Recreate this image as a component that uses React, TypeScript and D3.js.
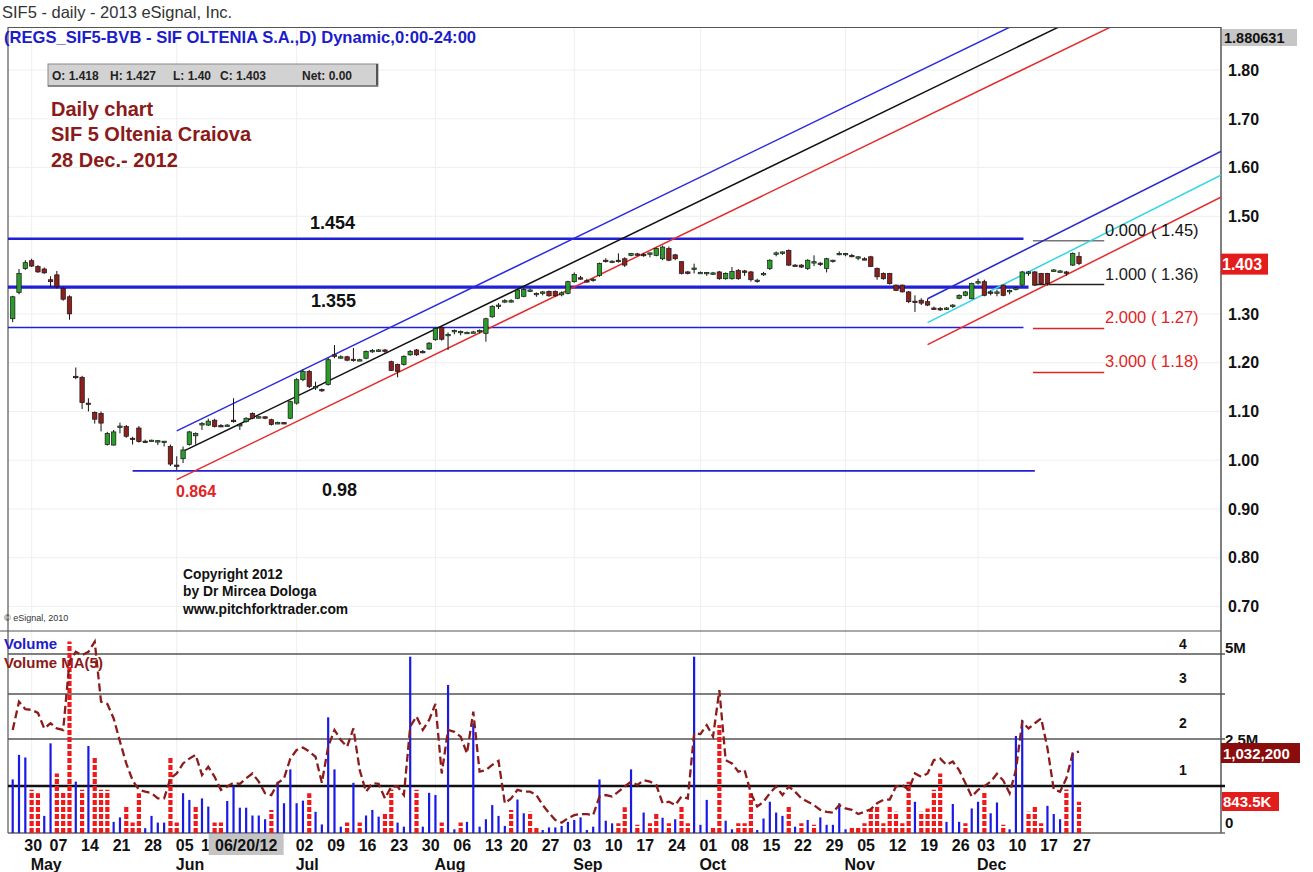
import React from "react";
import * as d3 from "d3";

// ---------- data ----------
const holidays = ["2012-05-01", "2012-06-04", "2012-08-15", "2012-11-30", "2012-12-25", "2012-12-26"];

const opens = [
  1.29, 1.344, 1.393, 1.409, 1.397, 1.392, 1.37, 1.38, 1.352, 1.335,
  1.172, 1.17, 1.117, 1.098, 1.096, 1.032, 1.031, 1.07, 1.069, 1.045,
  1.066, 1.039, 1.04, 1.04, 1.039, 1.028, 0.99, 1.003, 1.032, 1.05,
  1.075, 1.072, 1.082, 1.071, 1.072, 1.082, 1.072, 1.079, 1.096, 1.089,
  1.089, 1.083, 1.077, 1.077, 1.086, 1.117, 1.165, 1.182, 1.151, 1.145,
  1.155, 1.216, 1.212, 1.212, 1.207, 1.206, 1.209, 1.225, 1.226, 1.226,
  1.202, 1.196, 1.196, 1.216, 1.226, 1.223, 1.228, 1.247, 1.272, 1.255,
  1.266, 1.264, 1.262, 1.263, 1.266, 1.26, 1.294, 1.318, 1.325, 1.326,
  1.332, 1.336, 1.349, 1.342, 1.345, 1.346, 1.346, 1.339, 1.342, 1.366,
  1.374, 1.368, 1.369, 1.379, 1.41, 1.406, 1.41, 1.413, 1.42, 1.423,
  1.422, 1.424, 1.42, 1.413, 1.434, 1.421, 1.407, 1.386, 1.392, 1.385,
  1.385, 1.383, 1.386, 1.372, 1.372, 1.389, 1.388, 1.386, 1.368, 1.38,
  1.393, 1.425, 1.427, 1.43, 1.40, 1.40, 1.393, 1.405, 1.404, 1.393,
  1.41, 1.423, 1.424, 1.42, 1.417, 1.413, 1.417, 1.393, 1.383, 1.383,
  1.359, 1.359, 1.345, 1.326, 1.328, 1.325, 1.312, 1.311, 1.311, 1.318,
  1.332, 1.338, 1.331, 1.366, 1.366, 1.345, 1.344, 1.359, 1.348, 1.35,
  1.359, 1.386, 1.386, 1.383, 1.383, 1.389, 1.388, 1.386, 1.40, 1.418,
];

const highs = [
  1.337, 1.392, 1.41, 1.413, 1.40, 1.395, 1.377, 1.388, 1.355, 1.338,
  1.19, 1.173, 1.127, 1.10, 1.10, 1.058, 1.062, 1.077, 1.072, 1.048,
  1.07, 1.042, 1.042, 1.041, 1.039, 1.032, 1.008, 1.028, 1.06, 1.057,
  1.078, 1.085, 1.085, 1.074, 1.074, 1.127, 1.075, 1.088, 1.098, 1.091,
  1.09, 1.085, 1.079, 1.078, 1.122, 1.168, 1.186, 1.185, 1.161, 1.147,
  1.21, 1.236, 1.215, 1.214, 1.23, 1.208, 1.225, 1.228, 1.228, 1.228,
  1.204, 1.198, 1.215, 1.226, 1.228, 1.226, 1.242, 1.272, 1.274, 1.262,
  1.268, 1.266, 1.264, 1.265, 1.268, 1.292, 1.318, 1.322, 1.33, 1.33,
  1.352, 1.353, 1.352, 1.344, 1.347, 1.348, 1.348, 1.346, 1.368, 1.385,
  1.378, 1.372, 1.373, 1.405, 1.414, 1.41, 1.424, 1.416, 1.425, 1.425,
  1.425, 1.426, 1.436, 1.44, 1.438, 1.423, 1.408, 1.388, 1.403, 1.387,
  1.386, 1.386, 1.388, 1.385, 1.396, 1.392, 1.39, 1.388, 1.372, 1.386,
  1.412, 1.428, 1.428, 1.432, 1.402, 1.402, 1.412, 1.42, 1.406, 1.415,
  1.411, 1.428, 1.425, 1.423, 1.418, 1.416, 1.419, 1.395, 1.385, 1.384,
  1.36, 1.36, 1.347, 1.338, 1.332, 1.331, 1.315, 1.314, 1.314, 1.32,
  1.34, 1.347, 1.364, 1.372, 1.37, 1.348, 1.35, 1.36, 1.35, 1.356,
  1.388, 1.388, 1.388, 1.384, 1.384, 1.392, 1.39, 1.388, 1.426, 1.427,
];

const lows = [
  1.283, 1.34, 1.39, 1.396, 1.384, 1.382, 1.356, 1.352, 1.327, 1.288,
  1.166, 1.105, 1.10, 1.075, 1.059, 1.03, 1.03, 1.055, 1.046, 1.032,
  1.036, 1.035, 1.038, 1.031, 1.028, 0.988, 0.98, 0.994, 1.03, 1.032,
  1.062, 1.07, 1.067, 1.068, 1.07, 1.077, 1.062, 1.077, 1.084, 1.086,
  1.084, 1.071, 1.074, 1.074, 1.084, 1.114, 1.162, 1.148, 1.144, 1.14,
  1.153, 1.209, 1.208, 1.203, 1.202, 1.203, 1.207, 1.22, 1.222, 1.22,
  1.183, 1.17, 1.194, 1.214, 1.214, 1.219, 1.226, 1.245, 1.245, 1.226,
  1.258, 1.256, 1.26, 1.261, 1.26, 1.243, 1.292, 1.31, 1.322, 1.323,
  1.33, 1.334, 1.345, 1.335, 1.338, 1.335, 1.335, 1.336, 1.34, 1.364,
  1.37, 1.364, 1.366, 1.376, 1.405, 1.404, 1.405, 1.396, 1.418, 1.419,
  1.417, 1.416, 1.418, 1.41, 1.408, 1.41, 1.381, 1.381, 1.383, 1.383,
  1.378, 1.38, 1.37, 1.37, 1.37, 1.37, 1.378, 1.366, 1.364, 1.378,
  1.39, 1.418, 1.421, 1.398, 1.397, 1.394, 1.39, 1.398, 1.398, 1.385,
  1.405, 1.42, 1.418, 1.416, 1.41, 1.41, 1.396, 1.37, 1.37, 1.36,
  1.347, 1.344, 1.322, 1.304, 1.318, 1.316, 1.308, 1.306, 1.308, 1.312,
  1.33, 1.336, 1.33, 1.36, 1.336, 1.338, 1.336, 1.336, 1.34, 1.348,
  1.357, 1.378, 1.357, 1.36, 1.358, 1.386, 1.385, 1.378, 1.398, 1.40,
];

const closes = [
  1.335, 1.383, 1.405, 1.398, 1.386, 1.384, 1.366, 1.356, 1.33, 1.30,
  1.17, 1.118, 1.115, 1.084, 1.076, 1.055, 1.058, 1.07, 1.049, 1.043,
  1.038, 1.038, 1.041, 1.04, 1.039, 0.992, 0.988, 1.021, 1.058, 1.055,
  1.075, 1.08, 1.069, 1.07, 1.072, 1.079, 1.073, 1.086, 1.086, 1.089,
  1.086, 1.073, 1.077, 1.076, 1.12, 1.165, 1.182, 1.151, 1.151, 1.144,
  1.206, 1.213, 1.212, 1.205, 1.205, 1.206, 1.223, 1.225, 1.226, 1.225,
  1.184, 1.182, 1.213, 1.223, 1.216, 1.222, 1.24, 1.27, 1.248, 1.258,
  1.266, 1.264, 1.262, 1.263, 1.266, 1.29, 1.315, 1.318, 1.327, 1.327,
  1.349, 1.35, 1.349, 1.342, 1.345, 1.337, 1.337, 1.343, 1.366, 1.381,
  1.372, 1.367, 1.371, 1.403, 1.409, 1.408, 1.407, 1.40, 1.424, 1.422,
  1.421, 1.425, 1.434, 1.437, 1.41, 1.413, 1.383, 1.383, 1.394, 1.385,
  1.385, 1.384, 1.372, 1.383, 1.387, 1.372, 1.386, 1.37, 1.369, 1.383,
  1.41, 1.425, 1.427, 1.40, 1.398, 1.396, 1.41, 1.407, 1.402, 1.413,
  1.41, 1.424, 1.424, 1.417, 1.417, 1.412, 1.397, 1.376, 1.372, 1.362,
  1.348, 1.345, 1.325, 1.323, 1.322, 1.318, 1.311, 1.31, 1.312, 1.318,
  1.338, 1.345, 1.362, 1.366, 1.338, 1.344, 1.345, 1.338, 1.348, 1.353,
  1.386, 1.386, 1.359, 1.362, 1.362, 1.39, 1.388, 1.385, 1.424, 1.403,
];

// volume in millions
const volumes = [
  1.44, 2.1, 2.03, 1.16, 1.07, 0.46, 2.41, 1.6, 1.08, 5.15,
  1.38, 1.16, 2.34, 2.05, 1.16, 1.16, 0.3, 0.42, 0.73, 0.28,
  1.07, 0.13, 0.46, 0.28, 0.28, 2.05, 0.28, 1.07, 0.89, 0.73,
  0.93, 0.71, 0.28, 0.28, 0.86, 1.26, 0.68, 0.68, 0.47, 0.47,
  0.37, 0.62, 1.38, 0.8, 1.71, 0.8, 0.87, 1.07, 0.57, 0.23,
  3.11, 1.71, 0.17, 0.28, 1.35, 0.28, 0.47, 0.62, 0.44, 0.55,
  1.17, 0.28, 0.17, 4.74, 1.16, 0.17, 1.08, 1.02, 0.28, 3.98,
  0.1, 0.28, 0.3, 2.95, 0.17, 0.37, 0.75, 0.46, 0.19, 0.62,
  0.9, 0.53, 0.57, 0.17, 0.08, 0.15, 0.15, 0.19, 0.3, 0.35,
  0.42, 0.08, 0.17, 1.44, 0.33, 0.26, 0.26, 0.69, 1.71, 0.22,
  0.55, 0.26, 0.55, 0.41, 0.26, 0.37, 0.71, 0.26, 4.74, 0.22,
  0.89, 0.19, 2.9, 0.33, 0.1, 0.26, 0.26, 1.07, 0.08, 0.39,
  0.84, 0.55, 0.46, 0.71, 0.17, 0.26, 0.35, 0.22, 0.42, 0.22,
  0.22, 0.8, 0.1, 0.19, 0.19, 0.26, 0.64, 0.71, 0.26, 0.71,
  0.57, 0.26, 1.38, 0.84, 0.57, 0.66, 1.16, 1.6, 0.3, 0.78,
  0.3, 0.26, 0.66, 0.84, 1.11, 0.53, 0.82, 0.22, 0.1, 2.61,
  3.04, 0.57, 0.71, 0.26, 0.73, 0.51, 0.37, 1.17, 2.16, 0.84,
];

// b = blue (up) volume bar, r = red (down) volume bar
const volColors =
  "bbbrrbbrrr" + "brbrrrbbrr" + "rbbbbrrbbr" + "bbrrbbbbbb" + "brbbbbbrbb" +
  "bbbrbrbbbr" + "rbbbrbbbrb" + "brbbbbbbbr" + "bbrrbbbbbb" + "bbbbbbrrbr" +
  "brrbrbrrbb" + "brrbbrrrbb" + "bbbrbrbrbb" + "bbbrrrrrrr" + "rrrbrrrrbb" +
  "brbbrbbrbb" + "brrrbbbrbr";

// Volume MA(5), millions
const volumeMA = [
  2.77, 3.53, 3.33, 3.31, 3.23, 2.81, 2.95, 2.81, 2.77, 4.6,
  4.87, 4.78, 4.87, 5.14, 3.53, 3.47, 3.08, 2.46, 1.87, 1.42,
  1.16, 1.11, 1.07, 0.93, 0.93, 1.47, 1.6, 1.87, 2.0, 2.1,
  1.56, 1.78, 1.51, 1.16, 1.25, 1.35, 1.32, 1.47, 1.6, 1.38,
  1.07, 1.02, 1.34, 1.47, 2.0, 2.23, 2.3, 2.19, 2.05, 1.35,
  2.32, 2.77, 2.5, 2.32, 2.81, 1.69, 1.11, 1.34, 1.32, 0.93,
  1.25, 1.25, 1.02, 2.86, 3.13, 2.77, 3.04, 3.47, 1.6, 2.77,
  2.72, 2.59, 2.14, 3.26, 1.65, 1.69, 1.83, 1.94, 0.8, 0.93,
  1.16, 1.11, 1.11, 1.02, 0.75, 0.54, 0.35, 0.28, 0.4, 0.48,
  0.51, 0.51, 0.48, 0.98, 1.02, 0.98, 1.11, 1.25, 1.38, 1.29,
  1.42, 1.38, 1.29, 0.8, 0.84, 0.75, 0.98, 0.93, 2.68, 2.66,
  2.9, 2.59, 3.84, 1.96, 1.87, 1.65, 1.69, 1.07, 0.71, 0.84,
  1.07, 1.25, 1.02, 1.25, 1.11, 0.93, 0.84, 0.75, 0.62, 0.57,
  0.55, 0.75, 0.66, 0.62, 0.51, 0.57, 0.64, 0.8, 0.89, 0.9,
  1.25, 1.29, 1.16, 1.6, 1.51, 1.6, 1.96, 2.0, 1.83, 1.92,
  1.69, 1.34, 0.98, 1.16, 1.26, 1.38, 1.59, 1.41, 1.07, 1.69,
  2.99, 2.81, 2.95, 3.08, 2.28, 1.17, 1.11, 1.47, 2.14, 2.19,
];

// week labels shown on the time axis (Jun 18 / Jun 25 sit under the cursor date box)
const weekTicks = [
  "2012-04-30", "2012-05-07", "2012-05-14", "2012-05-21", "2012-05-28", "2012-06-05",
  "2012-06-11", "2012-07-02", "2012-07-09", "2012-07-16",
  "2012-07-23", "2012-07-30", "2012-08-06", "2012-08-13", "2012-08-20", "2012-08-27",
  "2012-09-03", "2012-09-10", "2012-09-17", "2012-09-24", "2012-10-01", "2012-10-08",
  "2012-10-15", "2012-10-22", "2012-10-29", "2012-11-05", "2012-11-12", "2012-11-19",
  "2012-11-26", "2012-12-03", "2012-12-10", "2012-12-17", "2012-12-27",
];
const monthTicks = ["2012-05-02", "2012-06-05", "2012-07-02", "2012-08-01", "2012-09-03", "2012-10-01", "2012-11-01", "2012-12-03"];
const monthNames = ["May", "Jun", "Jul", "Aug", "Sep", "Oct", "Nov", "Dec"];
const cursorDate = "2012-06-20";

const priceTicks = [1.8, 1.7, 1.6, 1.5, 1.3, 1.2, 1.1, 1.0, 0.9, 0.8, 0.7];
const volumeLevels = [1.263, 2.527, 3.737, 4.812];
const levelNames = ["1", "2", "3", "4"];

// horizontal support / resistance lines
const hLevels = [1.454, 1.355, 1.272, 0.978];
const hFrom = [-1, -1, -1, 19];
const hTo = [160.2, 161, 160.2, 162];
const hWidth = [2.4, 3.2, 1.6, 1.6];

// fibonacci projection levels
const fibNames = ["0.000", "1.000", "2.000", "3.000"];
const fibPrices = [1.45, 1.36, 1.27, 1.18];
const fibColors = ["#777", "#222", "#e02424", "#e02424"];

// pitchforks: start bar, price at start, slope per bar
const bigForkStart = [26, 27, 26];
const bigForkBase = [1.06, 1.018, 0.96];
const bigForkSlope = 0.00627;
const bigForkColors = ["#2a2ae0", "#111", "#e42a2a"];

const smallForkStart = 145;
const smallForkBase = [1.331, 1.282, 1.237];
const smallForkSlope = 0.0065;
const smallForkColors = ["#2a2ad0", "#35d5e5", "#e42a2a"];

// ---------- chart ----------
const FONT = "'Liberation Sans', Arial, Helvetica, sans-serif";
const fmt = d3.timeFormat("%Y-%m-%d");
const dates = d3.timeDay
  .range(new Date(2012, 3, 26), new Date(2012, 11, 28))
  .filter((d) => d.getDay() !== 0 && d.getDay() !== 6 && !holidays.includes(fmt(d)))
  .map(fmt);

const LEFT = 8;
const AXIS = 1221;
const P_TOP = 28;
const P_BOT = 631;
const V_TOP = 633;
const V_BOT = 833;

export default function App() {
  const x = d3.scaleLinear().domain([0, dates.length - 1]).range([12.7, 1079]);
  const yP = d3.scaleLinear().domain([0.7, 1.8]).range([606.5, 70]);
  const yV = d3.scaleLinear().domain([0, 5]).range([V_BOT, 647]);
  const idx = (d: string) => dates.indexOf(d);

  const maLine = d3
    .line<number>()
    .x((_, i) => x(i))
    .y((v) => yV(v));

  const forkEndBig = 200;
  const forkEndSmall = x.invert(AXIS + 2);

  return (
    <svg width={1313} height={872} style={{ position: "absolute", left: 0, top: 0, background: "#fff" }} fontFamily={FONT}>
      <defs>
        <clipPath id="priceClip">
          <rect x={LEFT} y={P_TOP} width={AXIS - LEFT} height={P_BOT - P_TOP} />
        </clipPath>
        <clipPath id="volClip">
          <rect x={LEFT} y={V_TOP} width={AXIS - LEFT} height={V_BOT - V_TOP} />
        </clipPath>
      </defs>
      <rect x={0} y={0} width={1313} height={872} fill="#fff" />

      {/* faint grid */}
      <g stroke="#efefef" strokeWidth={1}>
        {priceTicks.map((p) => (
          <line key={"g" + p} x1={LEFT} x2={AXIS} y1={yP(p)} y2={yP(p)} />
        ))}
        {monthTicks.map((d) => (
          <line key={"gm" + d} x1={x(idx(d))} x2={x(idx(d))} y1={P_TOP} y2={V_BOT} />
        ))}
      </g>

      {/* header */}
      <text x={2} y={18} fontSize={16.5} fill="#333">SIF5 - daily - 2013 eSignal, Inc.</text>
      <line x1={LEFT} x2={AXIS} y1={27.5} y2={27.5} stroke="#555" strokeWidth={1} />
      <line x1={LEFT} x2={LEFT} y1={27} y2={V_BOT} stroke="#555" strokeWidth={1.2} />
      <line x1={AXIS} x2={AXIS} y1={27} y2={V_BOT} stroke="#555" strokeWidth={1.5} />
      <line x1={0} x2={AXIS} y1={P_BOT} y2={P_BOT} stroke="#555" strokeWidth={1.2} />
      <line x1={LEFT} x2={AXIS + 4} y1={V_BOT} y2={V_BOT} stroke="#666" strokeWidth={1.5} />
      <text x={4} y={43} fontSize={16.6} fontWeight="bold" fill="#1c1ccc">
        (REGS_SIF5-BVB - SIF OLTENIA S.A.,D) Dynamic,0:00-24:00
      </text>

      {/* OHLC box */}
      <rect x={48} y={64} width={330} height={22} fill="#d2d2d2" stroke="#8a8a8a" strokeWidth={1} />
      <line x1={377} x2={377} y1={64} y2={86} stroke="#555" strokeWidth={2} />
      <line x1={48} x2={378} y1={86} y2={86} stroke="#777" strokeWidth={1.5} />
      <g fontSize={12} fontWeight="bold" fill="#222">
        <text x={52} y={80}>O: 1.418</text>
        <text x={110} y={80}>H: 1.427</text>
        <text x={173} y={80}>L: 1.40</text>
        <text x={220} y={80}>C: 1.403</text>
        <text x={302} y={80}>Net:  0.00</text>
      </g>

      {/* title */}
      <g fontSize={20} fontWeight="bold" fill="#8b1a1a">
        <text x={51} y={116}>Daily chart</text>
        <text x={51} y={141}>SIF 5 Oltenia Craiova</text>
        <text x={51} y={167}>28 Dec.- 2012</text>
      </g>

      {/* price panel */}
      <g clipPath="url(#priceClip)">
        {hLevels.map((p, i) => (
          <line
            key={"h" + i}
            x1={Math.max(LEFT, x(hFrom[i]))}
            x2={x(hTo[i])}
            y1={yP(p)}
            y2={yP(p)}
            stroke="#2020d4"
            strokeWidth={hWidth[i]}
          />
        ))}
        {fibPrices.map((p, i) => (
          <line key={"f" + i} x1={x(161.7)} x2={x(173)} y1={yP(p)} y2={yP(p)} stroke={fibColors[i]} strokeWidth={1.5} />
        ))}
        {bigForkBase.map((b, i) => (
          <line
            key={"bf" + i}
            x1={x(bigForkStart[i])}
            y1={yP(b)}
            x2={x(forkEndBig)}
            y2={yP(b + bigForkSlope * (forkEndBig - bigForkStart[i]))}
            stroke={bigForkColors[i]}
            strokeWidth={1.5}
          />
        ))}
        {smallForkBase.map((b, i) => (
          <line
            key={"sf" + i}
            x1={x(smallForkStart)}
            y1={yP(b)}
            x2={x(forkEndSmall)}
            y2={yP(b + smallForkSlope * (forkEndSmall - smallForkStart))}
            stroke={smallForkColors[i]}
            strokeWidth={1.5}
          />
        ))}
        {opens.map((o, i) => {
          const c = closes[i];
          const cx = x(i);
          const top = yP(Math.max(o, c));
          const bot = yP(Math.min(o, c));
          const up = c >= o;
          return (
            <g key={"c" + i}>
              <line x1={cx} x2={cx} y1={yP(highs[i])} y2={yP(lows[i])} stroke="#111" strokeWidth={1} />
              <rect
                x={cx - 2.2}
                y={top}
                width={4.4}
                height={Math.max(1.4, bot - top)}
                fill={up ? "#2b9b2b" : "#8e1f1f"}
                stroke="#161616"
                strokeWidth={0.7}
              />
            </g>
          );
        })}
      </g>

      {/* price annotations */}
      <g fontWeight="bold">
        <text x={310} y={229} fontSize={18} fill="#111">1.454</text>
        <text x={311} y={307} fontSize={18} fill="#111">1.355</text>
        <text x={322} y={496} fontSize={18} fill="#111">0.98</text>
        <text x={176} y={497} fontSize={16} fill="#e02424">0.864</text>
      </g>
      {fibPrices.map((p, i) => (
        <text key={"fl" + i} x={1105} y={yP(p) - 5} fontSize={16.5} fill={fibColors[i] === "#777" ? "#111" : fibColors[i]}>
          {fibNames[i]} ( {p.toFixed(2)})
        </text>
      ))}

      <g fontSize={13.8} fontWeight="bold" fill="#111">
        <text x={183} y={579}>Copyright 2012</text>
        <text x={183} y={596}>by Dr Mircea Dologa</text>
        <text x={183} y={614}>www.pitchforktrader.com</text>
      </g>
      <text x={4} y={621} fontSize={9} fill="#333">© eSignal, 2010</text>

      {/* price axis */}
      <g fontSize={16} fontWeight="bold" fill="#111">
        {priceTicks.map((p) => (
          <text key={"t" + p} x={1228} y={yP(p)} dy="0.36em">
            {p.toFixed(2)}
          </text>
        ))}
      </g>
      <rect x={1222} y={29} width={75} height={17} fill="#c6c6c6" />
      <text x={1224} y={43} fontSize={14.5} fontWeight="bold" fill="#111">1.880631</text>
      <rect x={AXIS} y={yP(1.403) - 10} width={47} height={21} fill="#e31c1c" />
      <text x={1222} y={yP(1.403) + 6} fontSize={16} fontWeight="bold" fill="#fff">1.403</text>

      {/* volume panel */}
      <g>
        {volumeLevels.map((v, i) => (
          <line
            key={"vl" + i}
            x1={LEFT}
            x2={AXIS + 4}
            y1={yV(v)}
            y2={yV(v)}
            stroke={i === 0 ? "#111" : "#555"}
            strokeWidth={i === 0 ? 2.4 : 1.5}
          />
        ))}
        <g fontSize={14} fontWeight="bold" fill="#111">
          {volumeLevels.map((v, i) => (
            <text key={"vn" + i} x={1179} y={yV(v) - 11 + (i === 3 ? 6 : 0)}>
              {levelNames[i]}
            </text>
          ))}
        </g>
      </g>

      <text x={4} y={649} fontSize={15} fontWeight="bold" fill="#1c1ccc">Volume</text>
      <text x={4} y={668} fontSize={15} fontWeight="bold" fill="#8b1a1a">Volume MA(5)</text>

      <g clipPath="url(#volClip)">
        {volumes.map((v, i) =>
          volColors[i] === "b" ? (
            <line key={"v" + i} x1={x(i)} x2={x(i)} y1={yV(0)} y2={yV(v)} stroke="#1a1ae8" strokeWidth={2.2} />
          ) : (
            <line
              key={"v" + i}
              x1={x(i)}
              x2={x(i)}
              y1={yV(0)}
              y2={yV(v)}
              stroke="#f01818"
              strokeWidth={4.2}
              strokeDasharray="5,2"
            />
          )
        )}
        <path d={maLine(volumeMA) || ""} fill="none" stroke="#8b1c1c" strokeWidth={2.3} strokeDasharray="8,4" />
      </g>

      {/* volume axis */}
      <g fontSize={15} fontWeight="bold" fill="#111">
        <text x={1225} y={653}>5M</text>
        <text x={1225} y={745}>2.5M</text>
        <text x={1225} y={828}>0</text>
      </g>
      <rect x={AXIS} y={743} width={79} height={20} fill="#8b0c0c" />
      <text x={1223} y={759} fontSize={15} fontWeight="bold" fill="#fff">1,032,200</text>
      <rect x={AXIS + 1} y={792} width={57} height={19} fill="#e31c1c" />
      <text x={1223} y={807} fontSize={15} fontWeight="bold" fill="#fff">843.5K</text>

      {/* time axis */}
      <g fontSize={16} fontWeight="bold" fill="#111">
        {weekTicks.map((d, i) => {
          const last = i === weekTicks.length - 1;
          return (
            <text key={"w" + d} x={last ? x(idx(d)) + 3 : x(idx(d)) - 1} y={851} textAnchor={last ? "middle" : "start"}>
              {d.slice(8)}
            </text>
          );
        })}
        {monthTicks.map((d, i) => (
          <text key={"m" + d} x={x(idx(d)) - 1} y={870}>
            {monthNames[i]}
          </text>
        ))}
      </g>
      <rect x={x(idx(cursorDate)) - 37.5} y={834} width={75} height={21} fill="#c4c4c4" />
      <text x={x(idx(cursorDate))} y={851} fontSize={16} fontWeight="bold" fill="#111" textAnchor="middle">
        06/20/12
      </text>
    </svg>
  );
}
